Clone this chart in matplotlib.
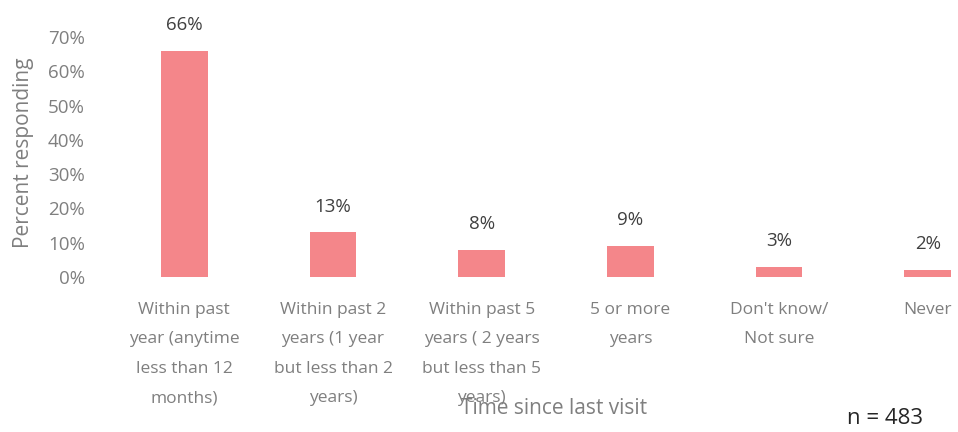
import matplotlib.pyplot as plt

categories = ["Within past\nyear (anytime\nless than 12\nmonths)",
              "Within past 2\nyears (1 year\nbut less than 2\nyears)",
              "Within past 5\nyears ( 2 years\nbut less than 5\nyears)",
              "5 or more\nyears",
              "Don't know/\nNot sure",
              "Never"]
values = [66, 13, 8, 9, 3, 2]
labels = ["66%", "13%", "8%", "9%", "3%", "2%"]
yticks = [0, 10, 20, 30, 40, 50, 60, 70]

plt.rcParams['font.family'] = ['Open Sans', 'DejaVu Sans']
grey = '#7f7f7f'

fig = plt.figure(figsize=(9.58, 4.32), dpi=100)
# axes extends past the right edge, as in the original crop
ax = fig.add_axes([110 / 958, (432 - 277) / 432, 892 / 958, 240 / 432])

x = range(len(values))
ax.bar(x, values, width=0.315, color='#f4868a')
for i, v in enumerate(values):
    ax.annotate(labels[i], (i, v), xytext=(0, 18.5), textcoords='offset points',
                ha='center', va='center', fontsize=13.5, color='#404040',
                annotation_clip=False)

ax.set_xlim(-0.5, 5.5)
ax.set_ylim(0, 70)
ax.set_yticks(yticks)
ax.set_yticklabels([f"{t}%" for t in yticks], fontsize=13.5, color=grey)
ax.set_xticks(list(x))
ax.set_xticklabels(categories, fontsize=12.5, color=grey, linespacing=2.12)
ax.tick_params(length=0, pad=18)
ax.tick_params(axis='y', pad=18)
for s in ax.spines.values():
    s.set_visible(False)

ax.set_ylabel("Percent responding", fontsize=15, color=grey)
ax.yaxis.set_label_coords((34 - 110) / 892, 0.517)
fig.text(554 / 958, 1 - 408 / 432, "Time since last visit", ha='center', va='center',
         fontsize=15, color=grey)
fig.text(885 / 958, 1 - 418 / 432, "n = 483", ha='center', va='center',
         fontsize=16, color='#262626')

fig.savefig("out.png", dpi=100)
